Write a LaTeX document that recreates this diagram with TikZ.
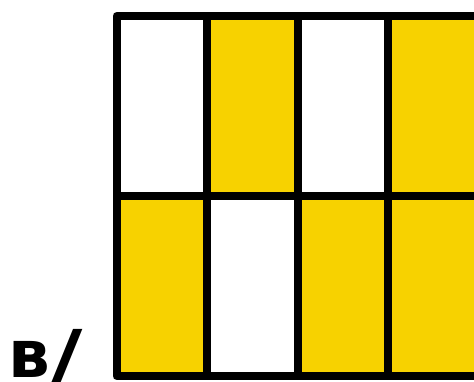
\documentclass[tikz,border=0pt]{standalone}
\usepackage{fontspec}
\usepackage{tikz}
\usetikzlibrary{positioning}
\newfontfamily\labelfont{DejaVu Sans}[BoldFont={DejaVu Sans Bold}]
\definecolor{cellYellow}{RGB}{247,210,0}

\begin{document}
\begin{tikzpicture}[x=1pt, y=-1pt,
    gridline/.style={line width=8pt, line join=round, black}]
  % Frame of the picture
  \useasboundingbox (0,0) rectangle (474,382);
  \clip (0,0) rectangle (474,382);

  % Shaded cells (column/row)
  \foreach \col/\row in {1/0, 3/0, 0/1, 2/1, 3/1} {
    \fill[cellYellow] ({116.5+90.5*\col},{16+180*\row}) rectangle ++(90.5,180);
  }

  % Grid lines
  \draw[gridline] (116.5,16) rectangle (478.5,376);
  \draw[gridline] (116.5,196) -- (478.5,196);
  \foreach \col in {1,2,3} {
    \draw[gridline] ({116.5+90.5*\col},16) -- ({116.5+90.5*\col},376);
  }

  % Label
  \node[anchor=base west, inner sep=0pt, font=\labelfont\bfseries\fontsize{66}{66}\selectfont]
    (label) at (8,377) {в\kern2pt\scalebox{1.3}[1]{/}};
\end{tikzpicture}
\end{document}
